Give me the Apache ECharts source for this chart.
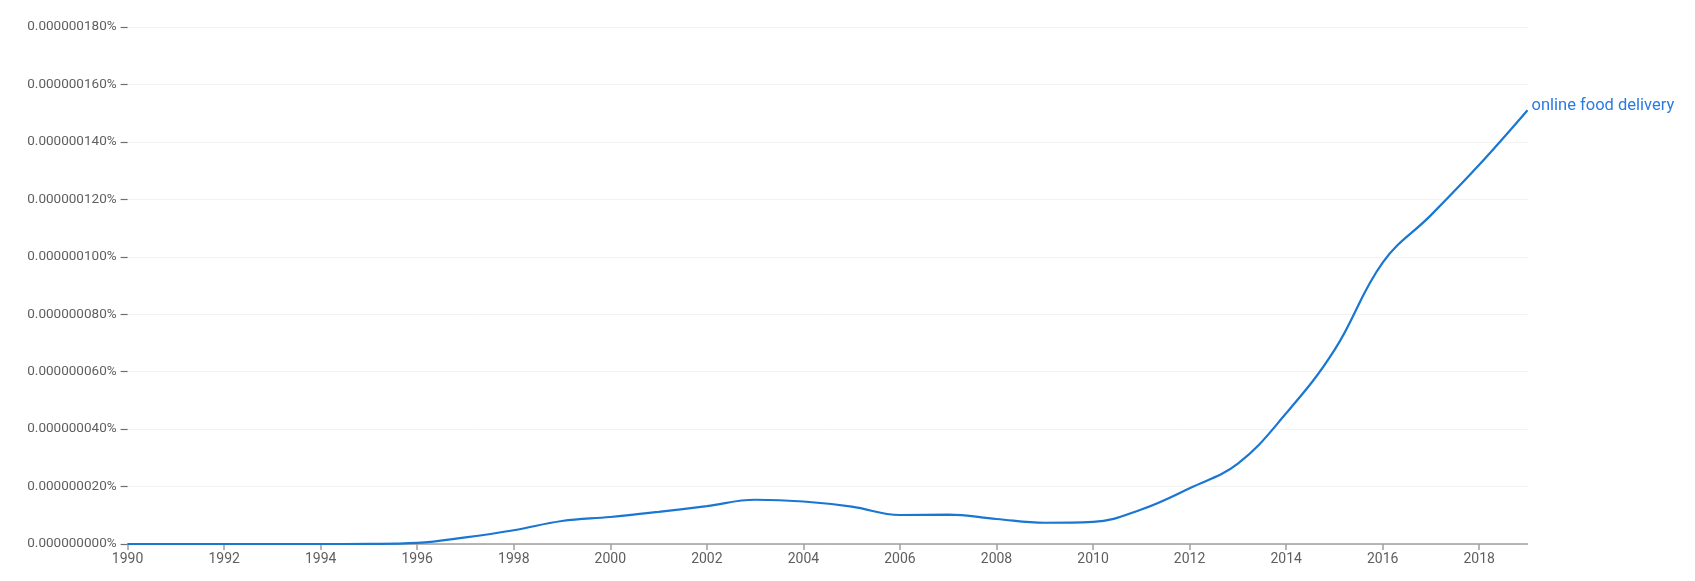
<!DOCTYPE html>
<html>
<head>
<meta charset="utf-8">
<script src="https://cdn.jsdelivr.net/npm/echarts@6/dist/echarts.min.js"></script>
<style>
html,body{margin:0;padding:0;background:#fff;}
#c{width:1695px;height:581px;}
</style>
</head>
<body>
<div id="c"></div>
<script>
// years and values (units of 1e-9 %)
const years = [1990,1991,1992,1993,1994,1995,1996,1997,1998,1999,2000,2001,2002,2003,2004,2005,2006,2007,2008,2009,2010,2011,2012,2013,2014,2015,2016,2017,2018,2019];
const values = [0,0,0,0,0,0.05,0.4,2.3,4.8,8.0,9.4,11.2,13.2,15.4,14.8,13.0,10.1,10.2,8.7,7.4,7.7,12.0,19.4,28.0,45.5,67.5,98,114.5,132,151];
const seriesName = 'online food delivery';
const xTicks = [1990,1992,1994,1996,1998,2000,2002,2004,2006,2008,2010,2012,2014,2016,2018];
const yTicks = [0,20,40,60,80,100,120,140,160,180];

const chart = echarts.init(document.getElementById('c'));
chart.setOption({
  animation: false,
  grid: {left: 127.6, right: 167.5, top: 27, bottom: 37, containLabel: false},
  xAxis: {
    type: 'value', min: 1990, max: 2019, interval: 2,
    axisLine: {show: true, lineStyle: {color: '#a0a0a0', width: 1.5}},
    axisTick: {show: true, length: 6, customValues: xTicks, lineStyle: {color: '#a0a0a0', width: 1.5}},
    axisLabel: {color: '#5f5f5f', fontSize: 14, fontFamily: 'Roboto', margin: 8, customValues: xTicks, formatter: v => String(v)},
    splitLine: {show: false}
  },
  yAxis: {
    type: 'value', min: yTicks[0], max: yTicks[yTicks.length-1], interval: 20,
    axisLine: {show: false},
    axisTick: {show: true, length: 7, lineStyle: {color: '#6f6f6f', width: 1.2}},
    axisLabel: {color: '#5f5f5f', fontSize: 13.5, fontFamily: 'Roboto', margin: 11,
      formatter: v => (v*1e-9).toFixed(9) + '%'},
    splitLine: {show: true, lineStyle: {color: '#f2f2f2', width: 1}}
  },
  series: [{
    name: seriesName,
    type: 'line',
    data: years.map((y,i) => [y, values[i]]),
    smooth: 0.4,
    showSymbol: false,
    symbol: 'none',
    lineStyle: {color: '#1976d2', width: 2.2},
    endLabel: {show: true, formatter: p => p.seriesName, color: '#2a7ae2', fontSize: 16.5, fontFamily: 'Roboto', distance: 4, offset: [0, -4]}
  }]
});
</script>
</body>
</html>
